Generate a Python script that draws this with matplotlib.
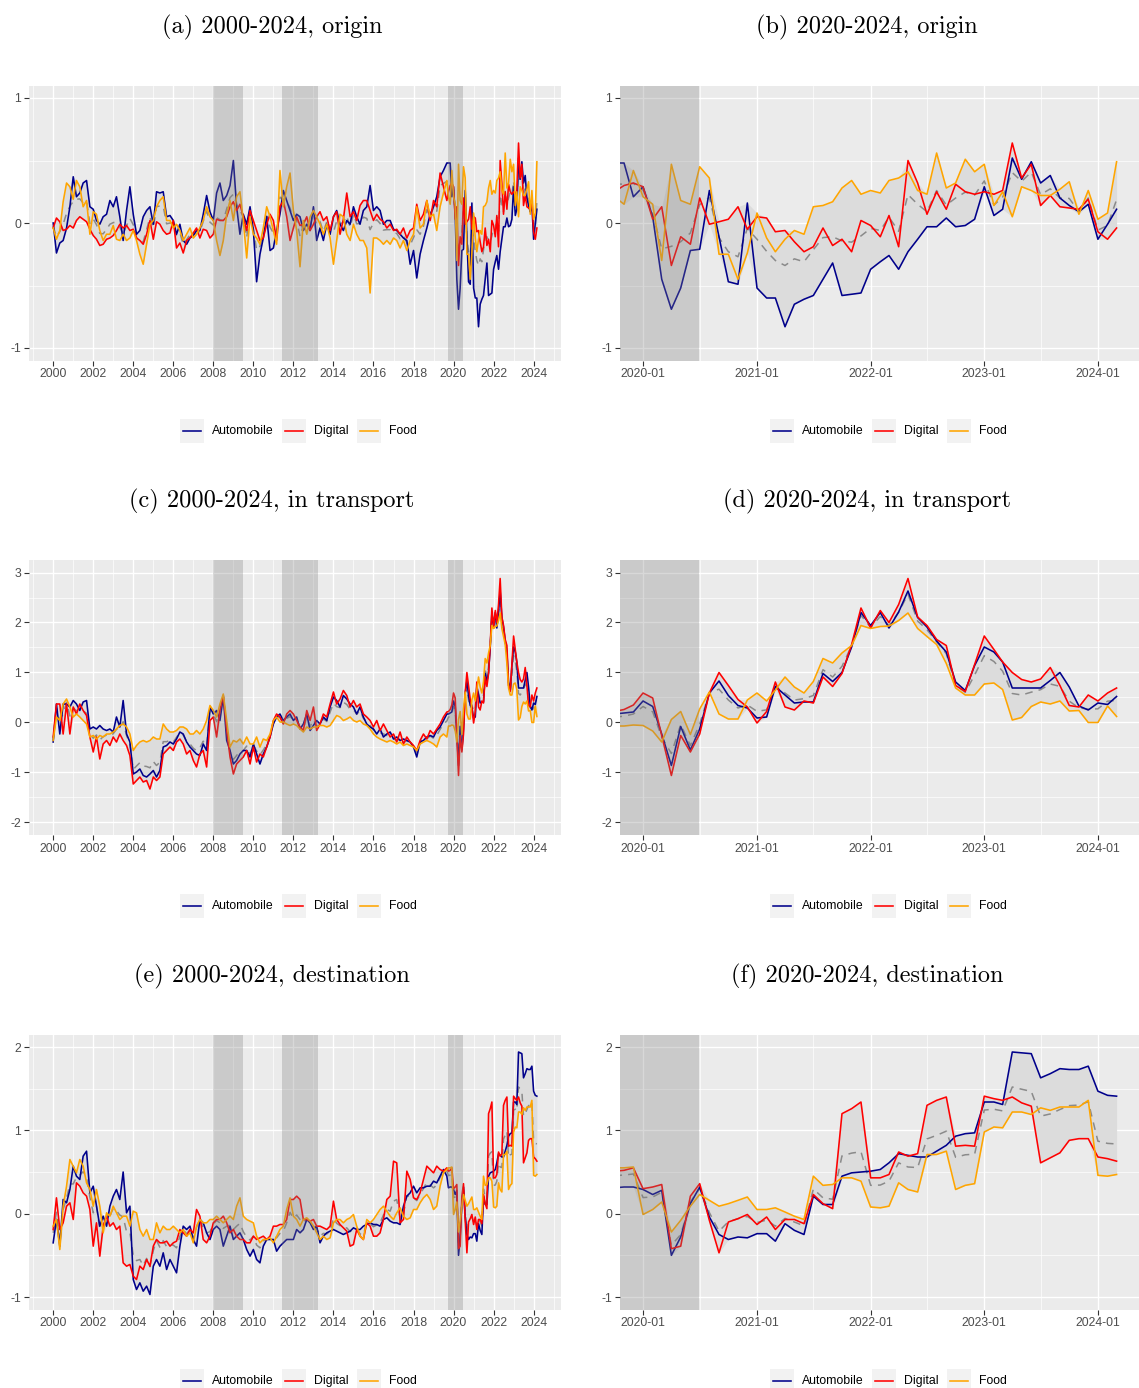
import numpy as np
import matplotlib
matplotlib.use("Agg")
import matplotlib.pyplot as plt
import matplotlib.dates as mdates
from matplotlib.patches import Rectangle
from matplotlib.ticker import MultipleLocator

plt.rcParams['font.family'] = ['Liberation Sans', 'DejaVu Sans']
plt.rcParams['axes.unicode_minus'] = False

names = ["Automobile", "Digital", "Food"]
colors = ["#00008B", "#FF0000", "#FFA500"]

# readings every 2 months, 2000-01 .. 2019-09
pre_dates = (np.datetime64('2000-01') + np.arange(0, 238, 2)).astype('datetime64[D]')
# monthly readings, 2019-10 .. 2024-03
rec_dates = (np.datetime64('2019-10') + np.arange(54)).astype('datetime64[D]')

# ---- origin ----
auto_a_pre = [0.0, -0.24, -0.16, -0.14, -0.04, 0.13, 0.37, 0.21, 0.24, 0.32,
              0.34, 0.13, 0.11, 0.02, -0.01, 0.05, 0.07, 0.18, 0.13, 0.21,
              0.05, -0.14, 0.10, 0.29, 0.07, -0.09, -0.06, 0.05, 0.10, 0.13,
              -0.01, 0.25, 0.24, 0.25, 0.05, 0.06, 0.02, -0.09, -0.01, -0.14,
              -0.17, -0.12, -0.10, -0.06, -0.06, 0.07, 0.22, 0.09, 0.02, 0.24,
              0.32, 0.18, 0.22, 0.30, 0.50, 0.13, -0.09, 0.07, -0.01, 0.13,
              -0.06, -0.47, -0.25, -0.12, 0.05, -0.22, -0.20, -0.06, 0.07, 0.26,
              0.18, 0.10, 0.02, 0.07, 0.05, -0.06, -0.01, -0.06, 0.13, -0.14,
              -0.04, -0.14, -0.01, -0.09, 0.05, 0.10, -0.01, -0.06, 0.02, -0.01,
              0.13, 0.05, -0.01, 0.10, 0.13, 0.30, 0.10, 0.13, 0.10, -0.01,
              0.02, 0.02, -0.05, -0.06, -0.09, -0.12, -0.14, -0.33, -0.22, -0.44,
              -0.25, -0.14, -0.04, 0.07, 0.13, 0.21, 0.37, 0.42, 0.48]
dig_a_pre = [-0.04, 0.04, 0.01, -0.06, -0.05, -0.02, -0.04, 0.02, 0.05, 0.03,
             0.01, -0.05, -0.10, -0.13, -0.18, -0.17, -0.13, -0.12, -0.10, -0.06,
             -0.01, -0.04, -0.02, -0.06, -0.05, -0.12, -0.14, -0.17, -0.09, 0.02,
             -0.13, 0.01, -0.01, -0.06, -0.09, -0.08, 0.02, -0.20, -0.16, -0.24,
             -0.14, -0.12, -0.08, -0.04, -0.12, -0.05, -0.06, -0.12, -0.09, 0.03,
             0.02, 0.02, 0.05, 0.13, 0.17, 0.10, 0.15, 0.05, -0.06, 0.10,
             0.02, -0.06, -0.14, -0.12, -0.01, 0.07, 0.02, -0.14, 0.13, 0.18,
             0.05, -0.14, -0.04, 0.05, -0.02, -0.01, 0.05, -0.06, -0.01, 0.05,
             0.09, 0.02, 0.05, -0.06, 0.05, 0.09, -0.09, 0.03, 0.24, 0.05,
             0.09, 0.02, 0.14, 0.18, 0.18, 0.10, 0.02, 0.07, 0.03, 0.01,
             -0.04, -0.01, -0.06, -0.05, -0.09, -0.04, -0.12, -0.06, -0.04, 0.15,
             0.02, 0.07, 0.18, 0.02, 0.18, 0.13, 0.40, 0.29, 0.18]
food_a_pre = [-0.04, -0.13, -0.06, 0.17, 0.32, 0.29, 0.19, 0.34, 0.29, 0.13,
              0.18, -0.09, 0.09, 0.07, -0.06, -0.14, -0.09, -0.09, -0.02, -0.13,
              -0.14, -0.09, -0.14, -0.12, -0.06, -0.14, -0.25, -0.33, -0.17, -0.01,
              0.02, 0.13, 0.18, 0.21, 0.02, 0.02, -0.04, -0.01, -0.06, -0.14,
              -0.09, -0.04, -0.12, -0.09, -0.04, 0.02, 0.13, 0.05, 0.02, -0.14,
              -0.26, -0.14, 0.07, 0.18, 0.02, 0.21, 0.25, 0.02, -0.28, 0.05,
              -0.09, -0.12, -0.17, -0.04, 0.13, 0.05, -0.06, -0.17, 0.42, 0.13,
              0.29, 0.40, 0.10, -0.06, -0.35, 0.02, -0.09, 0.05, 0.10, 0.05,
              -0.01, -0.09, -0.01, -0.12, -0.33, -0.14, 0.07, 0.05, -0.09, -0.14,
              -0.01, -0.09, -0.14, -0.14, -0.20, -0.56, -0.12, -0.12, -0.14, -0.17,
              -0.14, -0.17, -0.12, -0.14, -0.20, -0.14, -0.22, -0.14, -0.09, 0.13,
              -0.04, -0.01, 0.18, 0.05, 0.07, -0.06, 0.13, 0.24, 0.34]
auto_a_rec = [0.48, 0.48, 0.21, 0.29, 0.05, -0.45, -0.69, -0.52, -0.22, -0.21,
              0.26, -0.11, -0.47, -0.49, 0.16, -0.52, -0.60, -0.60, -0.83, -0.65,
              -0.61, -0.58, -0.45, -0.32, -0.58, -0.57, -0.56, -0.37, -0.31, -0.26,
              -0.37, -0.23, -0.13, -0.03, -0.03, 0.04, -0.03, -0.02, 0.03, 0.29,
              0.06, 0.11, 0.52, 0.35, 0.49, 0.32, 0.38, 0.20, 0.14, 0.09,
              0.15, -0.13, -0.01, 0.11]
dig_a_rec = [0.25, 0.30, 0.32, 0.29, 0.03, 0.13, -0.34, -0.11, -0.17, 0.20,
             -0.01, 0.01, 0.03, 0.13, -0.05, 0.05, 0.04, -0.07, -0.06, -0.15,
             -0.23, -0.19, -0.04, -0.18, -0.13, -0.23, 0.02, -0.02, -0.11, 0.06,
             -0.19, 0.50, 0.32, 0.07, 0.25, 0.11, 0.31, 0.25, 0.23, 0.25,
             0.23, 0.26, 0.64, 0.36, 0.47, 0.14, 0.22, 0.13, 0.12, 0.11,
             0.19, -0.07, -0.13, -0.04]
food_a_rec = [0.21, 0.15, 0.42, 0.21, 0.15, -0.30, 0.47, 0.18, 0.15, 0.45,
              0.36, -0.25, -0.25, -0.45, -0.24, 0.08, -0.12, -0.23, -0.13, -0.06,
              -0.09, 0.13, 0.14, 0.17, 0.28, 0.34, 0.23, 0.26, 0.24, 0.34,
              0.36, 0.41, 0.26, 0.23, 0.56, 0.28, 0.32, 0.51, 0.41, 0.47,
              0.14, 0.25, 0.05, 0.29, 0.26, 0.22, 0.22, 0.27, 0.33, 0.07,
              0.26, 0.03, 0.08, 0.49]

# ---- in transport ----
auto_c_pre = [-0.39, 0.37, -0.23, 0.37, 0.37, 0.31, 0.44, 0.37, 0.24, 0.41,
              0.44, -0.13, -0.09, -0.13, -0.06, -0.13, -0.16, -0.13, -0.19, 0.11,
              -0.09, 0.44, -0.23, -0.39, -1.03, -0.99, -0.93, -1.06, -1.09, -1.03,
              -0.96, -1.09, -0.96, -0.49, -0.46, -0.39, -0.43, -0.33, -0.19, -0.23,
              -0.39, -0.49, -0.56, -0.63, -0.66, -0.43, -0.56, 0.31, 0.17, 0.24,
              0.04, 0.51, -0.36, -0.56, -0.83, -0.76, -0.63, -0.56, -0.56, -0.69,
              -0.43, -0.63, -0.83, -0.63, -0.49, -0.29, -0.03, 0.11, 0.17, 0.04,
              0.11, 0.17, 0.04, 0.11, -0.13, -0.03, 0.17, -0.16, -0.06, 0.04,
              -0.03, 0.11, 0.04, 0.31, 0.51, 0.44, 0.31, 0.54, 0.47, 0.37,
              0.31, 0.17, 0.31, 0.11, -0.03, -0.09, -0.13, -0.23, -0.13, -0.29,
              -0.23, -0.19, -0.33, -0.29, -0.36, -0.33, -0.36, -0.39, -0.49, -0.69,
              -0.39, -0.36, -0.29, -0.26, -0.29, -0.16, -0.09, 0.04, 0.17]
dig_c_pre = [-0.29, 0.37, 0.37, -0.23, 0.37, -0.23, 0.31, 0.17, 0.37, 0.24,
             0.14, -0.29, -0.59, -0.29, -0.73, -0.43, -0.36, -0.46, -0.29, -0.39,
             -0.23, -0.36, -0.46, -0.66, -1.23, -1.16, -1.09, -1.19, -1.16, -1.33,
             -1.09, -1.16, -1.09, -0.63, -0.56, -0.49, -0.56, -0.39, -0.33, -0.43,
             -0.63, -0.56, -0.76, -0.89, -0.63, -0.56, -0.89, 0.04, 0.11, -0.29,
             0.24, 0.54, -0.16, -0.69, -1.03, -0.83, -0.76, -0.69, -0.56, -0.83,
             -0.49, -0.79, -0.63, -0.69, -0.49, -0.29, 0.04, 0.17, 0.11, -0.03,
             0.17, 0.24, 0.17, 0.04, -0.09, -0.16, 0.24, 0.04, 0.31, -0.16,
             -0.03, 0.17, 0.11, 0.37, 0.61, 0.37, 0.47, 0.64, 0.54, 0.31,
             0.44, 0.31, 0.37, 0.17, 0.11, 0.04, -0.09, 0.04, -0.16, -0.03,
             -0.16, -0.29, -0.23, -0.39, -0.19, -0.43, -0.29, -0.39, -0.46, -0.56,
             -0.36, -0.23, -0.33, -0.16, -0.23, -0.13, -0.03, 0.11, 0.21]
food_c_pre = [-0.36, 0.11, 0.04, 0.37, 0.47, 0.31, 0.11, 0.17, 0.11, 0.04,
              -0.03, -0.29, -0.26, -0.33, -0.26, -0.29, -0.23, -0.23, -0.19, -0.13,
              -0.06, -0.03, -0.09, -0.23, -0.56, -0.46, -0.39, -0.36, -0.39, -0.36,
              -0.29, -0.33, -0.33, -0.03, -0.13, -0.19, -0.19, -0.16, -0.09, -0.09,
              -0.13, -0.23, -0.23, -0.16, -0.23, -0.13, 0.04, 0.34, 0.24, 0.11,
              0.37, 0.57, 0.04, -0.49, -0.36, -0.39, -0.33, -0.43, -0.29, -0.43,
              -0.43, -0.29, -0.49, -0.33, -0.36, -0.23, 0.04, 0.11, 0.01, 0.01,
              -0.03, -0.06, -0.03, -0.06, -0.13, -0.19, -0.09, -0.13, -0.09, -0.09,
              -0.06, -0.06, -0.09, -0.06, 0.04, 0.14, 0.11, 0.04, 0.07, 0.11,
              0.04, 0.01, 0.04, -0.03, -0.06, -0.13, -0.23, -0.29, -0.33, -0.36,
              -0.39, -0.36, -0.39, -0.43, -0.39, -0.46, -0.43, -0.46, -0.49, -0.56,
              -0.43, -0.39, -0.36, -0.39, -0.43, -0.49, -0.29, -0.23, -0.29]
auto_c_rec = [0.17, 0.19, 0.21, 0.43, 0.32, -0.23, -0.86, -0.08, -0.55, -0.13,
              0.59, 0.83, 0.54, 0.34, 0.29, 0.09, 0.11, 0.72, 0.55, 0.39,
              0.41, 0.41, 0.98, 0.82, 1.00, 1.51, 2.20, 1.94, 2.20, 1.89,
              2.21, 2.63, 2.10, 1.91, 1.63, 1.41, 0.81, 0.64, 1.14, 1.51,
              1.41, 1.21, 0.69, 0.69, 0.69, 0.69, 0.84, 1.00, 0.71, 0.33,
              0.25, 0.39, 0.36, 0.52]
dig_c_rec = [0.22, 0.26, 0.35, 0.59, 0.49, -0.26, -1.06, -0.26, -0.59, -0.23,
             0.59, 1.00, 0.74, 0.46, 0.31, -0.01, 0.22, 0.81, 0.31, 0.25,
             0.43, 0.39, 0.91, 0.72, 0.98, 1.56, 2.29, 1.89, 2.24, 2.00,
             2.36, 2.88, 2.11, 1.94, 1.66, 1.54, 0.74, 0.62, 1.16, 1.73,
             1.46, 1.21, 1.00, 0.86, 0.81, 0.87, 1.10, 0.74, 0.34, 0.31,
             0.55, 0.43, 0.59, 0.69]
food_c_rec = [-0.07, -0.07, -0.05, -0.06, -0.17, -0.39, 0.06, 0.22, -0.24, 0.27,
              0.61, 0.17, 0.07, 0.07, 0.45, 0.59, 0.43, 0.65, 0.91, 0.71,
              0.59, 0.82, 1.28, 1.19, 1.39, 1.54, 1.94, 1.88, 1.92, 1.93,
              2.04, 2.19, 1.88, 1.72, 1.56, 1.18, 0.69, 0.55, 0.55, 0.77,
              0.79, 0.66, 0.05, 0.10, 0.32, 0.41, 0.37, 0.43, 0.23, 0.24,
              0.00, 0.00, 0.33, 0.12]

# ---- destination ----
auto_e_pre = [-0.35, -0.07, -0.39, 0.17, 0.13, 0.29, 0.57, 0.45, 0.41, 0.69,
              0.75, 0.25, 0.33, 0.09, -0.15, -0.03, -0.15, 0.09, 0.21, 0.29,
              0.17, 0.50, 0.01, 0.09, -0.79, -0.91, -0.83, -0.93, -0.87, -0.97,
              -0.63, -0.55, -0.63, -0.47, -0.67, -0.55, -0.63, -0.71, -0.39, -0.15,
              -0.19, -0.15, -0.31, -0.39, -0.07, -0.11, -0.23, -0.31, -0.19, -0.15,
              -0.19, -0.39, -0.27, -0.15, -0.31, -0.27, -0.23, -0.31, -0.43, -0.51,
              -0.43, -0.55, -0.59, -0.39, -0.31, -0.31, -0.31, -0.45, -0.39, -0.35,
              -0.31, -0.31, -0.31, -0.19, -0.23, -0.19, -0.07, -0.11, -0.19, -0.15,
              -0.35, -0.27, -0.23, -0.21, -0.19, -0.21, -0.23, -0.25, -0.23, -0.21,
              -0.17, -0.19, -0.19, -0.15, -0.13, -0.11, -0.13, -0.13, -0.15, -0.07,
              -0.05, -0.09, -0.11, -0.11, -0.13, 0.09, 0.21, 0.25, 0.33, 0.25,
              0.31, 0.31, 0.33, 0.33, 0.39, 0.37, 0.45, 0.53, 0.45]
dig_e_pre = [-0.19, 0.19, -0.19, -0.11, 0.09, 0.13, -0.07, 0.37, 0.33, 0.25,
             0.21, 0.05, -0.39, -0.11, -0.51, -0.15, -0.03, -0.15, -0.11, -0.19,
             -0.15, -0.59, -0.63, -0.61, -0.75, -0.79, -0.63, -0.67, -0.55, -0.63,
             -0.39, -0.31, -0.35, -0.35, -0.33, -0.39, -0.35, -0.33, -0.19, -0.23,
             -0.27, -0.19, -0.23, 0.05, -0.03, -0.31, -0.35, -0.27, -0.11, -0.07,
             -0.07, -0.03, -0.11, -0.23, -0.19, -0.27, -0.31, -0.31, -0.35, -0.35,
             -0.27, -0.31, -0.29, -0.27, -0.31, -0.27, -0.15, -0.15, -0.13, -0.13,
             -0.07, 0.17, 0.17, 0.21, 0.17, -0.07, -0.07, -0.09, -0.07, -0.15,
             -0.15, -0.17, -0.19, -0.15, 0.15, -0.07, -0.13, -0.17, -0.21, -0.39,
             -0.37, -0.19, -0.27, -0.31, -0.11, -0.15, -0.27, -0.27, -0.23, -0.07,
             0.17, 0.21, 0.63, 0.61, -0.11, -0.07, 0.51, 0.41, 0.19, 0.17,
             0.25, 0.41, 0.57, 0.53, 0.49, 0.57, 0.53, 0.51, 0.55]
food_e_pre = [-0.15, -0.07, -0.43, 0.09, 0.33, 0.65, 0.57, 0.49, 0.65, 0.57,
              0.37, 0.29, 0.09, 0.29, 0.09, -0.23, 0.01, -0.03, 0.09, 0.01,
              -0.07, -0.03, -0.03, -0.15, 0.03, 0.01, -0.19, -0.27, -0.19, -0.31,
              -0.31, -0.11, -0.23, -0.15, -0.19, -0.19, -0.15, -0.19, -0.23, -0.19,
              -0.27, -0.23, -0.35, -0.15, -0.07, -0.11, -0.11, -0.07, -0.07, -0.03,
              -0.07, -0.11, -0.07, -0.03, -0.07, 0.09, 0.19, -0.03, -0.07, -0.09,
              -0.11, -0.27, -0.35, -0.31, -0.31, -0.29, -0.35, -0.27, -0.19, -0.15,
              0.05, 0.19, -0.03, -0.07, -0.15, -0.07, -0.05, -0.09, -0.15, -0.23,
              -0.31, -0.27, -0.31, -0.29, -0.11, -0.07, -0.07, -0.11, -0.07, -0.05,
              -0.01, -0.15, -0.27, -0.31, -0.07, -0.11, -0.07, -0.01, 0.05, 0.09,
              0.03, -0.03, -0.07, 0.01, 0.07, -0.03, -0.07, -0.05, 0.05, 0.05,
              0.13, 0.19, 0.23, 0.17, 0.05, 0.09, 0.33, 0.49, 0.53]
auto_e_rec = [0.31, 0.32, 0.32, 0.29, 0.23, 0.28, -0.50, -0.28, 0.12, 0.32,
              -0.04, -0.25, -0.31, -0.28, -0.29, -0.24, -0.24, -0.33, -0.12, -0.20,
              -0.25, 0.21, 0.11, 0.11, 0.45, 0.49, 0.50, 0.51, 0.53, 0.61,
              0.72, 0.70, 0.68, 0.68, 0.75, 0.82, 0.93, 0.96, 0.97, 1.34,
              1.34, 1.31, 1.94, 1.93, 1.92, 1.63, 1.68, 1.74, 1.73, 1.73,
              1.77, 1.47, 1.42, 1.41]
dig_e_rec = [0.51, 0.52, 0.55, 0.30, 0.32, 0.35, -0.42, -0.39, 0.21, 0.36,
             -0.08, -0.47, -0.10, -0.06, -0.01, -0.13, -0.04, -0.19, -0.07, -0.07,
             -0.12, 0.23, 0.12, 0.06, 1.20, 1.26, 1.34, 0.43, 0.43, 0.47,
             0.74, 0.69, 0.72, 1.30, 1.36, 1.40, 0.81, 0.82, 0.81, 1.41,
             1.38, 1.36, 1.40, 1.33, 1.29, 0.61, 0.67, 0.73, 0.88, 0.90,
             0.90, 0.68, 0.66, 0.63]
food_e_rec = [0.55, 0.55, 0.56, -0.01, 0.05, 0.14, -0.22, -0.08, 0.09, 0.23,
              0.16, 0.09, 0.12, 0.16, 0.20, 0.05, 0.05, 0.07, 0.02, -0.03,
              -0.07, 0.45, 0.34, 0.35, 0.43, 0.43, 0.39, 0.08, 0.07, 0.09,
              0.37, 0.29, 0.26, 0.71, 0.71, 0.75, 0.29, 0.34, 0.36, 0.98,
              1.04, 1.03, 1.22, 1.22, 1.19, 1.27, 1.24, 1.28, 1.28, 1.28,
              1.36, 0.46, 0.45, 0.47]

recessions = [("2008-01-01", "2009-06-30"),
              ("2011-06-01", "2013-03-31"),
              ("2019-10-01", "2020-06-30")]

titles = [("(a) 2000-2024, origin", "(b) 2020-2024, origin"),
          ("(c) 2000-2024, in transport", "(d) 2020-2024, in transport"),
          ("(e) 2000-2024, destination", "(f) 2020-2024, destination")]

rows = [
    ((auto_a_pre, dig_a_pre, food_a_pre), (auto_a_rec, dig_a_rec, food_a_rec), (-1.1, 1.1)),
    ((auto_c_pre, dig_c_pre, food_c_pre), (auto_c_rec, dig_c_rec, food_c_rec), (-2.25, 3.25)),
    ((auto_e_pre, dig_e_pre, food_e_pre), (auto_e_rec, dig_e_rec, food_e_rec), (-1.15, 2.15)),
]

W, H = 1139, 1388
fig = plt.figure(figsize=(W / 100, H / 100), dpi=100)
fig.patch.set_facecolor("white")


def style_axis(ax, ylim):
    ax.set_facecolor("#EBEBEB")
    for sp in ax.spines.values():
        sp.set_visible(False)
    ax.set_ylim(*ylim)
    ax.yaxis.set_major_locator(MultipleLocator(1))
    ax.yaxis.set_minor_locator(MultipleLocator(0.5))
    ax.set_axisbelow(True)
    ax.grid(which="major", color="white", lw=1.0)
    ax.grid(which="minor", color="white", lw=0.5)
    ax.tick_params(which="major", length=3.5, width=0.8, color="#333333",
                   labelcolor="#4D4D4D", labelsize=8.8, pad=2)
    ax.tick_params(which="minor", length=0)


def draw_series(ax, dates, series):
    vals = np.array(series)
    lo, hi, mean = vals.min(axis=0), vals.max(axis=0), vals.mean(axis=0)
    ax.fill_between(dates, lo, hi, color="#DCDCDC", lw=0, zorder=2)
    ax.plot(dates, mean, color="#8A8A8A", lw=1.1, dashes=(5, 4), zorder=3)
    for s, c in zip(series, colors):
        ax.plot(dates, s, color=c, lw=1.15, zorder=4)
    for a, b in recessions:
        ax.axvspan(mdates.date2num(np.datetime64(a)), mdates.date2num(np.datetime64(b)),
                   color="#7F7F7F", alpha=0.3, lw=0, zorder=5)


row_top = [85.5, 560.0, 1034.5]
panel_h = 275.0
for r, (pre, rec, ylim) in enumerate(rows):
    top = row_top[r]
    bottom = 1 - (top + panel_h) / H

    # long view
    axl = fig.add_axes([29 / W, bottom, 532 / W, panel_h / H])
    full = [list(p) + list(q) for p, q in zip(pre, rec)]
    full_dates = np.concatenate([pre_dates, rec_dates])
    draw_series(axl, full_dates, full)
    style_axis(axl, ylim)
    axl.set_xlim(mdates.date2num(np.datetime64("1998-10-17")),
                 mdates.date2num(np.datetime64("2025-05-15")))
    axl.xaxis.set_major_locator(mdates.YearLocator(2))
    axl.xaxis.set_minor_locator(mdates.YearLocator(1))
    axl.xaxis.set_major_formatter(mdates.DateFormatter("%Y"))

    # short view
    axr = fig.add_axes([620 / W, bottom, 519 / W, panel_h / H])
    draw_series(axr, rec_dates, rec)
    style_axis(axr, ylim)
    axr.set_xlim(mdates.date2num(np.datetime64("2019-10-19")),
                 mdates.date2num(np.datetime64("2024-05-12")))
    axr.xaxis.set_major_locator(mdates.YearLocator(1, month=1, day=1))
    axr.xaxis.set_minor_locator(mdates.MonthLocator(bymonth=[7]))
    axr.xaxis.set_major_formatter(mdates.DateFormatter("%Y-%m"))

    ty = 1 - (27 + 474.5 * r) / H
    fig.text(272 / W, ty, titles[r][0], family="cmr10", fontsize=17.5,
             ha="center", va="center")
    fig.text(867 / W, ty, titles[r][1], family="cmr10", fontsize=17.5,
             ha="center", va="center")

# legends drawn in pixel space
over = fig.add_axes([0, 0, 1, 1])
over.set_xlim(0, W)
over.set_ylim(H, 0)
over.axis("off")
key_off = [0, 102, 177]
for ly in [431, 906, 1381]:
    for x0 in [180, 770]:
        for off, name, c in zip(key_off, names, colors):
            kx = x0 + off
            over.add_patch(Rectangle((kx, ly - 12), 24, 24, facecolor="#F2F2F2",
                                     edgecolor="none"))
            over.plot([kx + 3, kx + 21], [ly, ly], color=c, lw=1.15)
            over.text(kx + 32, ly, name, fontsize=8.8, color="black",
                      ha="left", va="center")

fig.savefig("out.png", dpi=100)
